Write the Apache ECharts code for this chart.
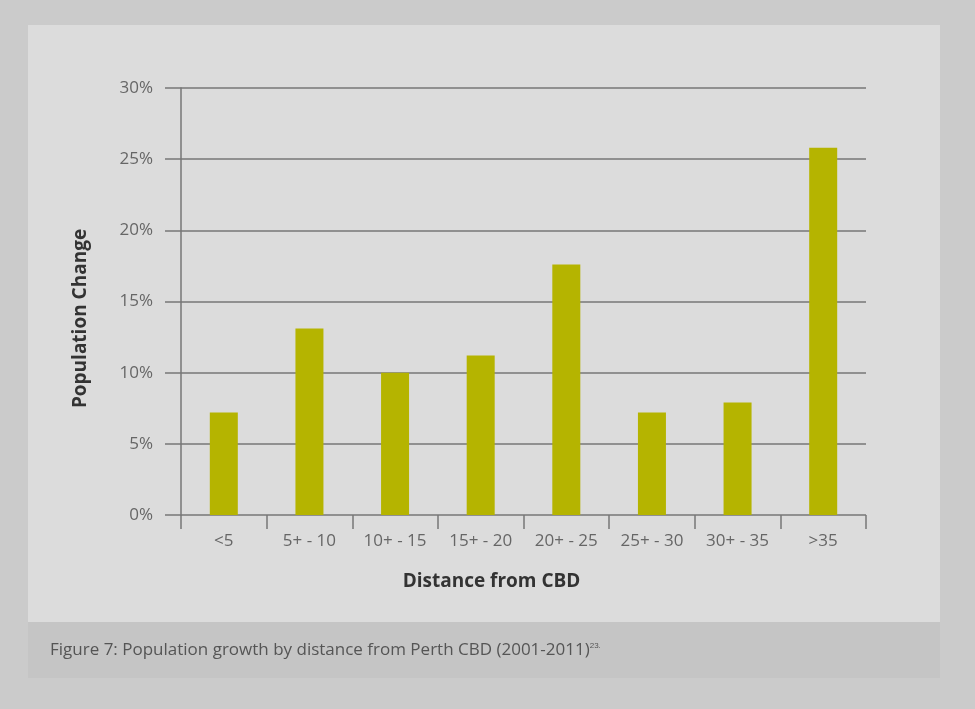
<!DOCTYPE html>
<html>
<head>
<meta charset="utf-8">
<script src="https://cdn.jsdelivr.net/npm/echarts@6/dist/echarts.min.js"></script>
<style>
  html, body { margin: 0; padding: 0; background: #cbcbcb; }
  #chart { width: 975px; height: 709px; }
</style>
</head>
<body>
<div id="chart"></div>
<script>
// distance bands (km) and population change in percent
const categories = ["<5", "5+ - 10", "10+ - 15", "15+ - 20", "20+ - 25", "25+ - 30", "30+ - 35", ">35"];
const populationChange = [7.2, 13.1, 10.0, 11.2, 17.6, 7.2, 7.9, 25.8];
const yTicks = [0, 5, 10, 15, 20, 25, 30];

const fontFamily = "'Open Sans', 'Noto Sans', sans-serif";

const chart = echarts.init(document.getElementById("chart"), null, { renderer: "canvas" });

chart.setOption({
    backgroundColor: "#cbcbcb",
    animation: false,
    graphic: [
        {
            type: "rect",
            z: -10,
            shape: { x: 28, y: 25, width: 912, height: 597 },
            style: { fill: "#dcdcdc" },
        },
        {
            type: "rect",
            z: -10,
            shape: { x: 28, y: 622, width: 912, height: 56 },
            style: { fill: "#c5c5c5" },
        },
        {
            type: "text",
            left: 50,
            top: 642,
            style: {
                text: "Figure 7: Population growth by distance from Perth CBD (2001-2011){sup|23.}",
                font: "17px " + fontFamily,
                fill: "#555",
                rich: {
                    sup: { fontSize: 8, fill: "#555", verticalAlign: "top", padding: [0, 0, 9, 0] },
                },
            },
        },
    ],
    grid: {
        left: 181,
        right: 109,
        top: 88,
        bottom: 194,
    },
    xAxis: {
        type: "category",
        data: categories,
        name: "Distance from CBD",
        nameLocation: "middle",
        nameGap: 57,
        nameTextStyle: { fontFamily, fontSize: 19, fontWeight: "bold", color: "#333", padding: [0, 64, 0, 0] },
        axisLine: { show: false },
        axisTick: { show: true, alignWithLabel: false, length: 14, lineStyle: { color: "#777", width: 1.5 } },
        axisLabel: { fontFamily, fontSize: 17, color: "#666", margin: 18 },
    },
    yAxis: {
        type: "value",
        min: yTicks[0],
        max: yTicks[yTicks.length - 1],
        interval: 5,
        name: "Population Change",
        nameLocation: "middle",
        nameGap: 91,
        nameTextStyle: { fontFamily, fontSize: 19, fontWeight: "bold", color: "#333", padding: [0, 34, 0, 0] },
        axisLine: { show: true, lineStyle: { color: "#777", width: 1.5 } },
        axisTick: { show: true, length: 16, lineStyle: { color: "#777", width: 1.5 } },
        axisLabel: { fontFamily, fontSize: 17, color: "#666", margin: 28, formatter: "{value}%" },
        splitLine: { show: true, lineStyle: { color: "#777", width: 1.5 } },
    },
    series: [
        {
            type: "bar",
            data: populationChange,
            barWidth: 28,
            itemStyle: { color: "#b5b400" },
        },
    ],
});
</script>
</body>
</html>
